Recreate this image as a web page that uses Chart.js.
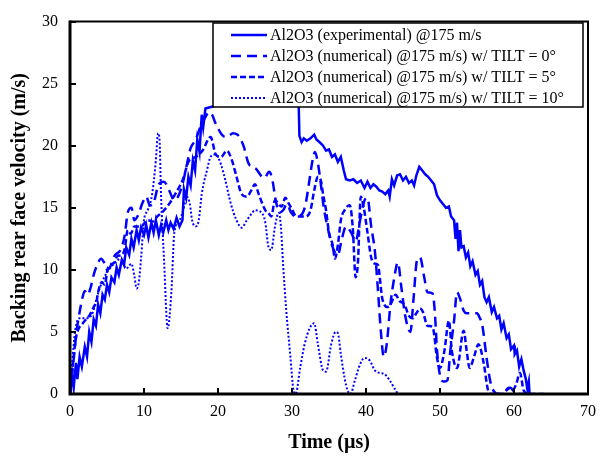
<!DOCTYPE html>
<html><head><meta charset="utf-8">
<script src="https://cdn.jsdelivr.net/npm/chart.js@4.4.1/dist/chart.umd.min.js"></script>
<style>html,body{margin:0;padding:0;background:#fff}canvas{display:block}</style>
</head><body>
<canvas id="c" width="604" height="459"></canvas>
<script>
// ---- data (time in µs, velocity in m/s) ----
const seriesLabels = [
  'Al2O3 (experimental) @175 m/s',
  'Al2O3 (numerical) @175 m/s) w/ TILT = 0°',
  'Al2O3 (numerical) @175 m/s) w/ TILT = 5°',
  'Al2O3 (numerical) @175 m/s) w/ TILT = 10°'
];
const xTitle = 'Time (µs)';
const yTitle = 'Backing rear face velocity (m/s)';

const expTime = [0,0.3,0.5,0.8,1.0,1.3,1.6,2.0,2.3,2.6,2.9,3.2,3.5,3.8,4.1,4.4,4.7,5.0,5.3,5.6,6.0,6.3,6.6,7.0,7.3,7.6,8.0,8.3,8.6,9.0,9.3,9.6,10.0,10.3,10.6,11.0,11.3,11.6,12.0,12.3,12.6,13.0,13.3,13.6,14.0,14.4,14.8,15.2,15.4,15.7,16.0,16.3,16.6,16.9,17.2,17.5,17.8,18.0,18.3,19.5,22,26,30,30.9,31.0,31.3,31.6,32.0,32.5,33.0,33.3,33.7,34.2,34.6,35.0,35.4,35.8,36.2,36.6,37.0,37.3,37.8,38.3,38.8,39.3,39.8,40.2,40.6,41.0,41.4,41.8,42.2,42.6,43.0,43.2,43.5,43.8,44.2,44.6,45.0,45.4,45.8,46.2,46.5,46.8,47.2,47.6,48.0,48.4,48.8,49.2,49.6,50.0,50.4,50.8,51.2,51.5,51.9,52.1,52.3,52.5,52.7,52.9,53.2,53.5,53.8,54.1,54.4,54.8,55.1,55.4,55.7,56.0,56.3,56.6,57.0,57.3,57.7,58.0,58.3,58.6,59.0,59.3,59.6,60.0,60.1,60.4,60.7,61.0,61.3,61.6,61.8,62.0,62.1];
const expVel  = [0,1.5,0.5,2.5,1.2,3.0,2.2,3.8,3.0,5.0,4.2,6.0,5.5,7.2,6.5,8.0,7.6,8.8,8.2,9.4,9.0,10.2,9.6,10.8,10.4,11.8,11.2,12.5,11.8,13.2,12.4,13.4,12.8,13.6,12.6,13.8,13.0,14.0,12.8,13.6,13.0,14.0,13.2,13.8,13.3,14.2,13.5,14.0,16.5,15.8,17.5,16.8,18.8,18.0,20.5,19.5,22.5,21.5,23.0,23.2,24.0,24.5,24.0,23.5,20.8,20.3,20.6,20.4,20.6,20.9,20.5,20.3,20.0,19.6,19.7,19.1,19.3,18.7,19.1,18.0,17.3,17.2,17.3,17.0,17.2,16.6,17.1,16.6,16.9,16.7,16.4,16.3,16.1,16.4,15.9,17.3,16.8,17.6,17.7,17.2,17.5,17.0,17.2,16.8,17.6,18.3,18.0,17.7,17.5,17.2,16.9,16.0,15.6,15.3,15.0,15.1,14.3,14.0,12.5,13.8,11.5,13.2,11.8,11.9,11.0,11.4,10.3,10.7,9.6,9.9,8.8,9.1,7.8,7.4,7.8,6.6,7.0,6.1,6.3,5.2,5.7,4.5,4.8,3.6,3.9,3.2,3.5,2.2,2.8,1.9,1.2,0.4,1.0,0];

const tilt0Time = [0,0.5,0.9,1.3,1.7,2.0,2.4,2.8,3.2,3.6,4.2,4.6,5.0,5.4,6.0,6.9,7.4,7.8,8.3,8.7,9.2,9.8,10.3,10.8,11.3,12.0,12.7,13.4,14.1,14.6,15.2,15.8,16.3,17.0,17.6,18.2,18.8,19.2,19.6,20.1,20.5,21.0,21.5,22.0,22.6,23.0,23.5,24.1,24.6,25.2,25.8,26.3,26.9,27.3,27.8,28.3,28.8,29.3,29.9,30.5,31.2,31.8,32.3,32.8,33.1,33.5,33.9,34.3,34.9,35.4,35.9,36.2,36.7,37.3,38.0,38.6,39.2,39.8,40.2,40.7,41.2,41.6,42.0,42.4,42.8,43.3,43.8,44.3,44.8,45.3,46.0,46.4,46.9,47.3,47.9,48.3,49.0,49.3,49.6,50.0,50.5,51.0,51.4,51.9,52.3,52.7,53.2,53.6,54.3,55.0,55.4,55.7,56.3,56.8,57.3,58.0,59.0,59.5,60.0,61.0,62.0];
const tilt0Vel  = [0,2.8,5.1,6.6,7.8,8.3,8.0,8.6,9.6,10.3,10.9,10.6,10.0,10.2,11.1,11.7,12.8,14.6,15.0,14.0,14.4,15.4,15.9,15.2,15.4,16.9,17.1,16.4,15.6,15.9,16.9,18.5,19.8,20.5,21.5,22.2,22.7,22.5,21.9,21.3,20.9,20.7,20.8,21.0,20.9,20.6,19.9,18.6,18.3,18.1,17.6,17.4,17.9,17.4,15.6,14.6,14.8,15.3,14.6,14.3,14.4,15.2,17.0,18.9,19.5,18.6,16.9,15.0,13.2,12.0,11.3,11.2,12.4,13.5,13.0,12.3,14.0,15.6,15.8,13.5,11.5,8.5,5.1,3.0,4.0,7.2,9.3,10.6,8.5,6.3,5.0,7.5,10.8,11.0,9.3,8.2,8.1,6.6,3.5,1.5,1.0,1.1,3.5,5.9,8.2,7.7,6.7,6.5,6.5,6.5,6.1,5.6,2.9,1.0,0.2,0,0.3,0.5,0.2,0,0];

const tilt5Time = [0,0.4,0.8,1.2,1.6,2.0,2.7,3.2,3.6,3.8,4.3,4.7,5.1,6.0,6.4,7.0,7.4,7.8,8.2,8.7,9.6,10.5,11.2,11.8,12.7,13.5,14.5,15.2,16.1,17.0,17.9,19.0,19.7,20.4,21.2,21.9,22.5,23.2,23.9,24.5,25.0,25.5,26.4,26.8,27.2,27.7,28.6,29.1,29.5,29.9,30.6,31.3,31.8,32.5,33.0,33.5,33.9,34.2,34.6,35.0,35.5,35.8,36.2,36.6,37.1,37.8,38.2,38.6,38.9,39.3,39.7,40.2,40.7,41.2,41.6,42.2,42.9,43.3,44.0,44.5,45.2,45.8,46.3,46.8,47.3,47.7,48.3,49.0,49.6,50.0,50.6,51.2,51.6,52.3,53.2,53.6,54.0,54.6,55.2,55.9,56.5,57.0,58.5,59.3,59.8,60.3,60.8,61.3,62.0,64.0];
const tilt5Vel  = [0,2.5,4.5,5.3,5.6,5.9,6.4,7.0,7.5,8.2,9.0,8.8,10.1,10.6,11.1,11.2,11.7,13.2,12.9,13.5,13.5,14.0,13.9,14.3,14.8,15.4,16.4,17.2,18.8,19.1,19.6,20.7,19.3,19.1,19.6,18.8,17.5,16.1,15.9,16.4,16.9,16.1,14.8,14.6,14.3,15.6,15.1,15.8,15.4,15.0,14.3,14.3,14.3,14.8,16.4,17.5,17.2,16.1,14.8,13.0,12.0,10.9,12.0,14.0,14.8,15.2,13.5,9.4,10.5,15.9,15.0,13.0,11.0,10.5,10.4,7.7,7.0,7.2,8.0,7.5,7.2,6.3,6.1,6.5,6.9,6.6,5.5,5.4,2.9,2.1,3.5,5.9,3.5,2.1,5.1,3.5,2.1,3.0,4.0,2.5,0.3,0,0,0.5,0.3,0.8,1.7,0.3,0,0];

const tilt10Time = [0,0.3,0.7,1.3,2.3,3.1,3.6,4.0,4.8,5.8,6.9,7.6,8.3,8.7,9.0,9.3,9.6,10.0,10.5,11.1,11.6,11.9,12.1,12.3,12.7,13.2,13.7,14.1,14.8,15.3,15.8,16.2,16.5,17.0,17.4,17.8,18.5,19.0,19.7,20.4,21.0,21.7,22.5,23.2,23.9,24.5,25.0,25.7,26.4,26.8,27.2,27.7,28.2,28.5,28.8,29.2,29.8,30.2,30.5,31.1,31.7,32.4,33.0,33.5,34.2,34.6,35.3,35.9,36.2,36.6,37.1,37.5,37.9,38.5,39.2,39.8,40.5,41.2,41.8,42.5,43.2,43.8,44.3];
const tilt10Vel  = [0,2.5,5.1,6.1,6.1,6.6,7.7,8.5,9.6,10.4,10.9,10.1,10.5,9.5,8.5,9.0,10.9,14.0,14.8,16.1,18.8,21.0,20.5,16.1,10.9,5.3,8.2,13.0,14.0,14.8,15.9,15.3,14.0,13.5,14.0,16.1,18.0,19.1,19.3,18.5,17.2,15.4,14.0,13.4,14.0,14.5,14.8,14.7,13.8,11.9,11.6,13.5,14.6,13.5,10.4,6.9,2.9,0.3,0,2.1,4.0,5.3,5.7,4.0,1.9,1.8,4.0,5.0,4.9,3.2,1.3,0.3,0,1.1,2.4,2.9,2.7,1.9,1.7,1.6,1.1,0.5,0];

const xMin = 0, xMax = 70, xStep = 10;
const yMin = 0, yMax = 30, yStep = 5;

function pts(t, v) { return t.map((x, i) => ({x: x, y: v[i]})); }

const BLUE = '#0000ff';
const SERIF = '"Liberation Serif", "Times New Roman", serif';

const frameAndLegend = {
  id: 'frameAndLegend',
  afterDatasetsDraw(chart) {
    const {ctx, chartArea: a} = chart;
    const xs = chart.scales.x, ys = chart.scales.y;
    ctx.save();
    ctx.strokeStyle = '#000';
    // top & right frame
    ctx.lineWidth = 2;
    ctx.beginPath();
    ctx.moveTo(a.left, a.top); ctx.lineTo(a.right, a.top); ctx.lineTo(a.right, a.bottom);
    ctx.stroke();
    // left & bottom axes
    ctx.lineWidth = 3;
    ctx.beginPath();
    ctx.moveTo(a.left, a.top - 1); ctx.lineTo(a.left, a.bottom); ctx.lineTo(a.right + 1, a.bottom);
    ctx.stroke();
    // inward ticks
    ctx.lineWidth = 2;
    ctx.beginPath();
    xs.ticks.forEach(t => { const p = Math.round(xs.getPixelForValue(t.value)); ctx.moveTo(p, a.bottom); ctx.lineTo(p, a.bottom - 6); });
    ys.ticks.forEach(t => { const p = Math.round(ys.getPixelForValue(t.value)); ctx.moveTo(a.left, p); ctx.lineTo(a.left + 6, p); });
    ctx.stroke();

    // legend box inside the plot
    const bx = 213, by = 23, bw = 370, bh = 84;
    ctx.fillStyle = '#fff';
    ctx.fillRect(bx, by, bw, bh);
    ctx.lineWidth = 1.5;
    ctx.strokeRect(bx, by, bw, bh);
    ctx.font = '16px ' + SERIF;
    ctx.textBaseline = 'middle';
    ctx.textAlign = 'left';
    chart.data.datasets.forEach((ds, i) => {
      const yy = by + 12 + i * 21;
      ctx.save();
      ctx.strokeStyle = ds.borderColor;
      ctx.lineWidth = ds.borderWidth;
      ctx.setLineDash(ds.borderDash || []);
      ctx.beginPath();
      ctx.moveTo(bx + 18, yy); ctx.lineTo(bx + 54, yy);
      ctx.stroke();
      ctx.restore();
      ctx.fillStyle = '#000';
      ctx.fillText(ds.label, bx + 57, yy + 1);
    });
    ctx.restore();
  }
};

new Chart(document.getElementById('c'), {
  type: 'line',
  data: {
    datasets: [
      {label: seriesLabels[0], data: pts(expTime, expVel), borderColor: BLUE, borderWidth: 2.5, tension: 0, pointRadius: 0},
      {label: seriesLabels[1], data: pts(tilt0Time, tilt0Vel), borderColor: BLUE, borderWidth: 2.5, borderDash: [10, 6], cubicInterpolationMode: 'monotone', pointRadius: 0},
      {label: seriesLabels[2], data: pts(tilt5Time, tilt5Vel), borderColor: BLUE, borderWidth: 2.5, borderDash: [6, 3], cubicInterpolationMode: 'monotone', pointRadius: 0},
      {label: seriesLabels[3], data: pts(tilt10Time, tilt10Vel), borderColor: BLUE, borderWidth: 2, borderDash: [2, 2], cubicInterpolationMode: 'monotone', pointRadius: 0}
    ]
  },
  options: {
    responsive: false,
    animation: false,
    layout: {padding: {left: 0, top: 15, right: 12, bottom: 0}},
    plugins: {legend: {display: false}, tooltip: {enabled: false}},
    scales: {
      x: {
        type: 'linear', min: xMin, max: xMax,
        ticks: {stepSize: xStep, color: '#000', padding: 8, font: {family: SERIF, size: 16}},
        grid: {display: false, drawTicks: false},
        border: {display: false},
        title: {display: true, text: xTitle, color: '#000', padding: {top: 2, bottom: 4}, font: {family: SERIF, size: 20, weight: 'bold'}},
        afterFit(s) { s.height = 65; }
      },
      y: {
        type: 'linear', min: yMin, max: yMax,
        ticks: {stepSize: yStep, color: '#000', padding: 12, font: {family: SERIF, size: 16}},
        grid: {display: false, drawTicks: false},
        border: {display: false},
        title: {display: true, text: yTitle, color: '#000', padding: {top: 8, bottom: 2}, font: {family: SERIF, size: 20, weight: 'bold'}},
        afterFit(s) { s.width = 70; }
      }
    }
  },
  plugins: [frameAndLegend]
});
</script>
</body></html>
